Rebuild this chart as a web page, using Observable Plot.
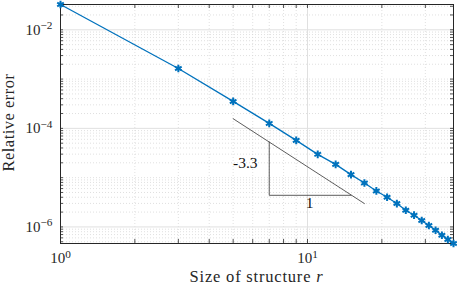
<!DOCTYPE html>
<html><head><meta charset="utf-8">
<script src="https://cdn.jsdelivr.net/npm/d3@7"></script>
<script src="https://cdn.jsdelivr.net/npm/@observablehq/plot@0.6"></script>
<style>body{margin:0;background:#fff} svg{display:block}</style>
</head><body><div id="chart"></div>
<script>
// ---- data ----
const sizes = [1,3,5,7,9,11,13,15,17,19,21,23,25,27,29,31,33,35,37,39];
const errors = [3.26e-2,1.64e-3,3.52e-4,1.26e-4,5.71e-5,2.97e-5,1.86e-5,1.15e-5,7.80e-6,5.37e-6,
                4.00e-6,2.98e-6,2.18e-6,1.73e-6,1.35e-6,1.07e-6,8.57e-7,6.79e-7,5.56e-7,4.61e-7];
const xTickValues = [1, 10];
const xTickExp = ["0", "1"];
const yTickValues = [1e-6, 1e-4, 1e-2];
const yTickExp = ["\u22126", "\u22124", "\u22122"];
const xMinor = [2,3,4,5,6,7,8,9,20,30];
const xMajorGrid = [10];
const yMajorGrid = [1e-6, 1e-4, 1e-2];
// slope triangle
const hypX = [5, 17];
const hypY = [1.57e-4, 2.98e-6];
const legX = [7, 15];
const legY = [5.28e-5, 4.38e-6];
const slopeText = "-3.3";
const slopeTextPos = [5.6, 2.02e-5];
const runText = "1";
const runTextPos = [10.2, 3.0e-6];
const xLabel = "Size of structure ";
const xLabelVar = "r";
const yLabel = "Relative error";

// minor y positions (log decades)
const yMinor = [];
for (let e = -7; e <= -2; e++) for (let k = 1; k <= 9; k++) {
  const v = +(k * Math.pow(10, e)).toPrecision(6);
  if (v >= 4.61e-7 && v <= 3.26e-2 && !yMajorGrid.includes(v)) yMinor.push(v);
}
const xAllTicks = [1,2,3,4,5,6,7,8,9,10,20,30];
const yAllTicks = yMinor.concat(yMajorGrid);

const W = 457, H = 286, mL = 60, mR = 4, mT = 4, mB = 43;
const pw = W - mL - mR, ph = H - mT - mB;
const blue = "#0072BD", axisCol = "#262626";
const serif = "Liberation Serif";

const series = sizes.map((s, i) => ({s, e: errors[i]}));
const expOf = (vals, exps) => d => {
  let best = 0, bd = Infinity;
  vals.forEach((v, i) => { const dd = Math.abs(Math.log10(v) - Math.log10(d)); if (dd < bd) { bd = dd; best = i; } });
  return "10^" + exps[best];
};

const chart = Plot.plot({
  width: W, height: H,
  marginLeft: mL, marginRight: mR, marginTop: mT, marginBottom: mB,
  x: {type: "log", domain: [1, 39]},
  y: {type: "log", domain: [4.61e-7, 3.26e-2]},
  style: {fontFamily: serif, fontSize: "15px", color: axisCol, background: "#fff"},
  marks: [
    Plot.ruleX(xMinor, {stroke: "#d2d2d2", strokeWidth: 0.7, strokeDasharray: "1,2"}),
    Plot.ruleY(yMinor, {stroke: "#d2d2d2", strokeWidth: 0.7, strokeDasharray: "1,2"}),
    Plot.ruleX(xMajorGrid, {stroke: "#e0e0e0", strokeWidth: 1}),
    Plot.ruleY(yMajorGrid, {stroke: "#e0e0e0", strokeWidth: 1}),
    Plot.ruleX(xAllTicks, {stroke: axisCol, strokeWidth: 0.8, insetTop: ph - 4}),
    Plot.ruleX(xAllTicks, {stroke: axisCol, strokeWidth: 0.8, insetBottom: ph - 4}),
    Plot.ruleY(yAllTicks, {stroke: axisCol, strokeWidth: 0.8, insetRight: pw - 3}),
    Plot.ruleY(yAllTicks, {stroke: axisCol, strokeWidth: 0.8, insetLeft: pw - 3}),
    Plot.frame({stroke: axisCol, strokeWidth: 1}),
    Plot.line(hypX.map((x, i) => ({x, y: hypY[i]})), {x: "x", y: "y", stroke: "#333", strokeWidth: 0.8}),
    Plot.line([{x: legX[0], y: legY[0]}, {x: legX[0], y: legY[1]}, {x: legX[1], y: legY[1]}],
      {x: "x", y: "y", stroke: "#333", strokeWidth: 0.8}),
    Plot.text([slopeText], {x: slopeTextPos[0], y: slopeTextPos[1], text: d => d, fontSize: 15.5, fill: "#111", fontFamily: serif}),
    Plot.text([runText], {x: runTextPos[0], y: runTextPos[1], text: d => d, fontSize: 15.5, fill: "#111", fontFamily: serif}),
    Plot.line(series, {x: "s", y: "e", stroke: blue, strokeWidth: 1.3}),
    Plot.dot(series, {x: "s", y: "e", symbol: "asterisk", r: 3.6, stroke: blue, strokeWidth: 2}),
    Plot.axisX(xTickValues, {tickSize: 0, tickPadding: 9, label: null, tickFormat: expOf(xTickValues, xTickExp), fontSize: 15, fontFamily: serif}),
    Plot.axisY(yTickValues, {tickSize: 0, tickPadding: 8, label: null, tickFormat: expOf(yTickValues, yTickExp), fontSize: 15, fontFamily: serif})
  ]
});

document.getElementById("chart").appendChild(chart);

const svg = d3.select(chart);
svg.selectAll("g[aria-label='x-axis tick label'] text, g[aria-label='y-axis tick label'] text").each(function() {
  const t = d3.select(this);
  const s = t.text();
  const parts = s.split("^");
  if (parts.length !== 2) return;
  t.text(null);
  t.append("tspan").text(parts[0]);
  t.append("tspan").attr("dy", "-0.5em").attr("font-size", "0.75em").text(parts[1]);
});

svg.append("text")
  .attr("transform", `translate(13.5,${mT + ph / 2 - 1}) rotate(-90)`)
  .attr("text-anchor", "middle")
  .attr("font-family", serif)
  .attr("font-size", 16.5)
  .attr("letter-spacing", "0.5px")
  .attr("fill", axisCol)
  .text(yLabel);
const xl = svg.append("text")
  .attr("x", mL + pw / 2).attr("y", 281.5)
  .attr("text-anchor", "middle")
  .attr("font-family", serif)
  .attr("font-size", 16.5)
  .attr("letter-spacing", "0.8px")
  .attr("fill", axisCol);
xl.append("tspan").text(xLabel);
xl.append("tspan").attr("font-style", "italic").text(xLabelVar);
</script>
</body></html>
